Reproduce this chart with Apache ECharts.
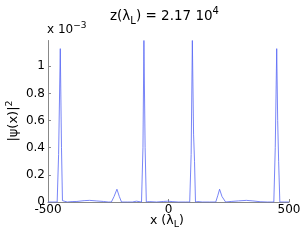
<!DOCTYPE html>
<html><head><meta charset="utf-8">
<script src="https://cdn.jsdelivr.net/npm/echarts@6/dist/echarts.min.js"></script>
<style>html,body{margin:0;padding:0;background:#fff}#c{width:304px;height:243px}</style>
</head><body><div id="c"></div>
<script>
// x positions (in lambda_L)
var xs = [-500,-480,-462,-456,-449,-444,-440,-420,-400,-380,-350,-327,-300,-270,-250,-237,-226,-214,-204,-195,-170,-150,-133,-125,-112,-106,-102,-97,-92,-80,-50,-20,-3,15,40,70,88,94,99,104,108,112,122,130,140,170,196,205,212,222,237,260,290,323,350,380,410,437,443,449,453,457,462,480,500];
// |psi(x)|^2 in units of 1e-3
var ys = [0,0,0,0.35,1.13,0.4,0.01,0,0.003,0.004,0.01,0.012,0.008,0.004,0,0,0.04,0.094,0.04,0,0,0,0.006,0,0,0.4,1.19,0.4,0,0.003,0,0.004,0.006,0.003,0,0,0,0.35,1.19,0.5,0.3,0,0.003,0.008,0,0,0,0.05,0.094,0.04,0,0.004,0.008,0.012,0.008,0.002,0,0,0.4,1.13,0.6,0.3,0,0,0];
var xTicks = [-500, 0, 500];
var yTicks = [0, 0.2, 0.4, 0.6, 0.8, 1];

var data = xs.map(function(x, i){ return [x, ys[i]]; });
var font = 'DejaVu Sans';
var chart = echarts.init(document.getElementById('c'));
chart.setOption({
  animation: false,
  grid: {left: 48, right: 15, top: 40.5, bottom: 41},
  xAxis: {
    type: 'value', min: xTicks[0], max: xTicks[xTicks.length-1], interval: xTicks[1] - xTicks[0],
    axisLine: {show: true, onZero: false, lineStyle: {color: '#888', width: 1}},
    axisTick: {show: true, inside: true, length: 3, lineStyle: {color: '#888'}},
    splitLine: {show: false},
    axisLabel: {color: '#000', fontFamily: font, fontSize: 12, margin: 2}
  },
  yAxis: {
    type: 'value', min: yTicks[0], max: 1.19, interval: yTicks[1] - yTicks[0],
    axisLine: {show: true, onZero: false, lineStyle: {color: '#888', width: 1}},
    axisTick: {show: true, inside: true, length: 3, lineStyle: {color: '#888'}},
    splitLine: {show: false},
    axisLabel: {color: '#000', fontFamily: font, fontSize: 12, margin: 3, showMaxLabel: false}
  },
  series: [{
    type: 'line', data: data, showSymbol: false, symbol: 'none',
    lineStyle: {color: '#5566f5', width: 0.8}, silent: true
  }],
  graphic: [
    {type: 'text', left: 110, top: 6, z: 10,
      style: {text: '{m|z(\u03bb}{s|L}{m|) = 2.17 10}{p|4}', fontFamily: font,
        rich: {
          m: {fontSize: 13.5, lineHeight: 20, fontFamily: font, fill: '#000'},
          s: {fontSize: 10, lineHeight: 9, verticalAlign: 'bottom', fontFamily: font, fill: '#000'},
          p: {fontSize: 10, lineHeight: 9, verticalAlign: 'top', fontFamily: font, fill: '#000'}
        }}},
    {type: 'text', left: 47, top: 21, z: 10,
      style: {text: '{m|x 10}{p|\u22123}', fontFamily: font,
        rich: {
          m: {fontSize: 12, lineHeight: 18, fontFamily: font, fill: '#000'},
          p: {fontSize: 9, lineHeight: 8, verticalAlign: 'top', fontFamily: font, fill: '#000'}
        }}},
    {type: 'text', left: 150, top: 214, z: 10,
      style: {text: '{m|x (\u03bb}{s|L}{m|)}', fontFamily: font,
        rich: {
          m: {fontSize: 12.5, lineHeight: 18, fontFamily: font, fill: '#000'},
          s: {fontSize: 9.5, lineHeight: 9, verticalAlign: 'bottom', fontFamily: font, fill: '#000'}
        }}},
    {type: 'text', x: 14, y: 121, rotation: Math.PI/2, z: 10,
      style: {text: '{m|\u007c\u03c8(x)\u007c}{p|2}', align: 'center', verticalAlign: 'middle', fontFamily: font,
        rich: {
          m: {fontSize: 13, lineHeight: 18, fontFamily: font, fill: '#000'},
          p: {fontSize: 9.5, lineHeight: 8, verticalAlign: 'top', fontFamily: font, fill: '#000'}
        }}}
  ]
});
</script></body></html>
